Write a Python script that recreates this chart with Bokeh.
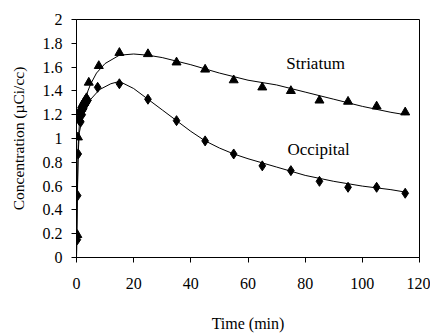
from bokeh.plotting import figure
from bokeh.models import Range1d, Label, FixedTicker
from bokeh.embed import file_html
from bokeh.resources import INLINE

# Measured data points
str_t = [0.3, 0.5, 0.8, 1.2, 1.6, 2.0, 2.5, 3.0, 3.5, 4.3, 7.8, 15, 25, 35, 45, 55, 65, 75, 85, 95, 105, 115]
str_c = [0.19, 1.01, 1.17, 1.22, 1.25, 1.28, 1.30, 1.32, 1.34, 1.47, 1.61, 1.72, 1.71, 1.64, 1.58, 1.49, 1.43, 1.40, 1.32, 1.31, 1.27, 1.22]

occ_t = [0.3, 0.4, 0.6, 1.0, 1.5, 2.0, 2.5, 3.0, 3.5, 4.0, 7.4, 15, 25, 35, 45, 55, 65, 75, 85, 95, 105, 115]
occ_c = [0.15, 0.52, 0.87, 1.15, 1.14, 1.20, 1.25, 1.28, 1.30, 1.32, 1.43, 1.46, 1.33, 1.15, 0.98, 0.87, 0.77, 0.73, 0.64, 0.59, 0.59, 0.54]

# Fitted curves
str_fit_t = [0, 0.3, 0.6, 1, 2, 3, 4, 5, 7, 10, 15, 20, 25, 30, 40, 50, 60, 70, 80, 90, 100, 110, 115]
str_fit_c = [0, 0.55, 0.95, 1.12, 1.24, 1.32, 1.40, 1.46, 1.55, 1.63, 1.70, 1.71, 1.70, 1.68, 1.62, 1.55, 1.49, 1.45, 1.39, 1.33, 1.27, 1.22, 1.20]

occ_fit_t = [0, 0.3, 0.6, 1, 2, 3, 5, 8, 12, 15, 20, 25, 30, 35, 40, 45, 50, 55, 60, 70, 80, 90, 100, 110, 115]
occ_fit_c = [0, 0.5, 0.88, 1.05, 1.17, 1.25, 1.33, 1.41, 1.46, 1.48, 1.42, 1.33, 1.24, 1.15, 1.06, 0.98, 0.92, 0.87, 0.83, 0.76, 0.69, 0.64, 0.60, 0.57, 0.55]

x_ticks = [0, 20, 40, 60, 80, 100, 120]
y_ticks = [0, 0.2, 0.4, 0.6, 0.8, 1.0, 1.2, 1.4, 1.6, 1.8, 2.0]
y_labels = {0: "0", 0.2: "0.2", 0.4: "0.4", 0.6: "0.6", 0.8: "0.8", 1.0: "1", 1.2: "1.2",
            1.4: "1.4", 1.6: "1.6", 1.8: "1.8", 2.0: "2"}

FONT = "Liberation Serif"

p = figure(width=430, height=334, output_backend="svg", toolbar_location=None,
           x_range=Range1d(0, 120), y_range=Range1d(0, 2),
           min_border_left=76, min_border_right=11, min_border_top=19, min_border_bottom=70)
p.background_fill_color = "white"
p.border_fill_color = "white"
p.outline_line_color = "black"
p.outline_line_width = 1
p.grid.visible = False

for ax in (p.xaxis[0], p.yaxis[0]):
    ax.axis_line_color = "black"
    ax.major_tick_line_color = "black"
    ax.minor_tick_line_color = None
    ax.major_tick_out = 5
    ax.major_tick_in = 0
    ax.major_label_text_font = FONT
    ax.major_label_text_font_size = "16px"
    ax.major_label_text_color = "black"
    ax.axis_label_text_font = FONT
    ax.axis_label_text_font_style = "normal"
    ax.axis_label_text_color = "black"

p.xaxis.axis_label_text_font_size = "16px"
p.yaxis.axis_label_text_font_size = "15.5px"
p.xaxis.ticker = FixedTicker(ticks=x_ticks)
p.yaxis.ticker = FixedTicker(ticks=y_ticks)
p.yaxis.major_label_overrides = y_labels
p.xaxis.major_label_standoff = 15
p.yaxis.major_label_standoff = 9
p.xaxis.axis_label = "Time (min)"
p.yaxis.axis_label = "Concentration (\u00b5Ci/cc)"
p.xaxis.axis_label_standoff = 23
p.yaxis.axis_label_standoff = 13

p.line(str_fit_t, str_fit_c, line_color="black", line_width=1)
p.line(occ_fit_t, occ_fit_c, line_color="black", line_width=1)
p.scatter(str_t, str_c, marker="triangle", size=9, fill_color="black", line_color="black")
p.scatter(occ_t, occ_c, marker="diamond", size=10, fill_color="black", line_color="black")

p.add_layout(Label(x=73.4, y=1.63, text="Striatum", text_font=FONT, text_font_size="17px",
                   text_baseline="middle", text_align="left", text_color="black"))
p.add_layout(Label(x=73.8, y=0.91, text="Occipital", text_font=FONT, text_font_size="17px",
                   text_baseline="middle", text_align="left", text_color="black"))

open("out.html", "w").write(file_html(p, INLINE))
